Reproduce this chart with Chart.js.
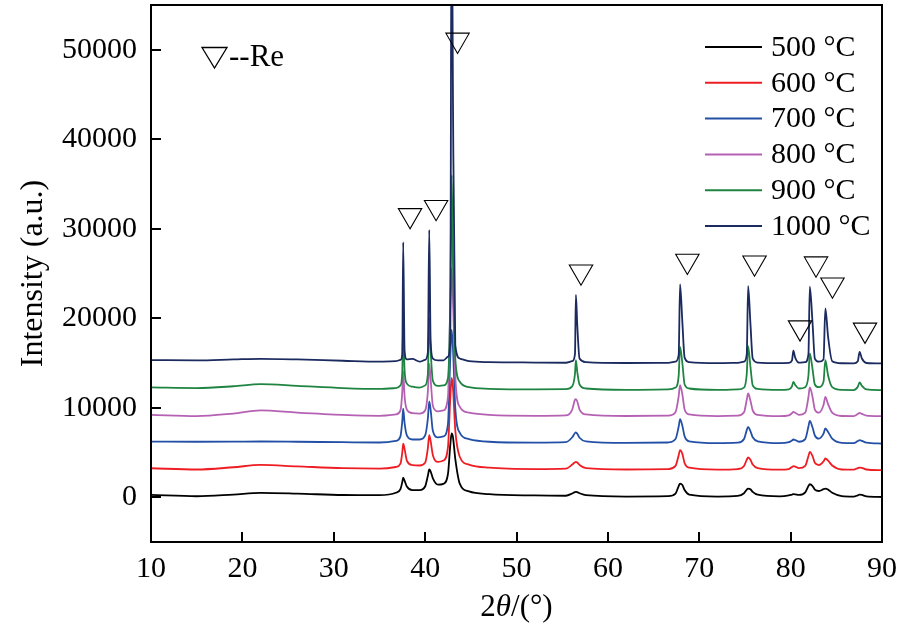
<!DOCTYPE html>
<html>
<head>
<meta charset="utf-8">
<script src="https://cdn.jsdelivr.net/npm/chart.js@4.4.1/dist/chart.umd.min.js"></script>
<style>
  html, body { margin: 0; padding: 0; background: #fff; }
  #wrap { width: 905px; height: 633px; }
</style>
</head>
<body>
<div id="wrap"><canvas id="xrd" width="905" height="633"></canvas></div>
<script>
// 2theta grid (degrees), denser around the Re reflections
const twoTheta = [
  10, 15, 19, 22, 26, 31, 35,
  36.8, 37.3, 37.5, 37.6, 37.75, 38.0, 38.6,
  39.4, 40.0, 40.3, 40.45, 40.6, 40.85, 41.4,
  42.0, 42.5, 42.75, 42.9, 43.05, 43.3, 43.8, 44.8, 47, 52,
  55.4, 56.1, 56.4, 56.5, 56.65, 56.9, 57.6,
  62, 66.6,
  67.4, 67.75, 67.9, 68.15, 68.4, 68.9,
  72, 74.2,
  74.9, 75.2, 75.35, 75.6, 75.85, 76.4,
  78.8, 79.8,
  80.15, 80.3, 80.5, 80.9,
  81.6, 81.95, 82.1, 82.4, 82.65, 83.1,
  83.6, 83.8, 84.1, 84.55,
  85.6, 86.9,
  87.35, 87.55, 87.8, 88.3, 90
];

const y500 = [
  260, 110, 300, 480, 400, 250, 230,
  500, 900, 1700, 2200, 1850, 1200, 800,
  800, 1200, 2400, 3100, 2900, 2100, 1400,
  1500, 2600, 5800, 7130, 6700, 4300, 1500, 650, 350, 200,
  170, 420, 580, 600, 570, 450, 230,
  80, 120,
  400, 1250, 1530, 1380, 800, 300,
  80, 150,
  450, 850, 970, 900, 600, 280,
  100, 200,
  300, 340, 330, 260,
  550, 1250, 1450, 1250, 850, 700,
  900, 970, 850, 500,
  130, 80,
  220, 300, 260, 100, 30
];
const y600 = [
  3240, 3100, 3350, 3610, 3450, 3250, 3200,
  3380, 3750, 5000, 6000, 5400, 4100, 3600,
  3550, 3850, 5500, 6940, 6300, 4700, 3950,
  4100, 5600, 11000, 13340, 12200, 7500, 4500, 3650, 3300, 3150,
  3200, 3650, 3920, 3950, 3880, 3600, 3250,
  3100, 3150,
  3500, 4700, 5260, 4850, 3800, 3300,
  3080, 3150,
  3500, 4200, 4440, 4200, 3650, 3250,
  3080, 3150,
  3380, 3470, 3430, 3250,
  3500, 4600, 5070, 4600, 3850, 3600,
  4000, 4330, 4100, 3550,
  3100, 3080,
  3250, 3320, 3280, 3100, 3020
];
const y700 = [
  6220, 6200, 6210, 6230, 6200, 6150, 6120,
  6300, 6800, 8500, 9900, 8300, 6900, 6450,
  6450, 6900, 8800, 10700, 9800, 7400, 6700,
  6800, 8200, 15500, 18700, 16600, 10000, 7200, 6500, 6200, 6100,
  6150, 6700, 7180, 7240, 7100, 6650, 6250,
  6080, 6120,
  6500, 7900, 8720, 8000, 6800, 6250,
  6050, 6100,
  6500, 7500, 7860, 7400, 6700, 6250,
  6050, 6150,
  6350, 6450, 6400, 6200,
  6500, 7900, 8540, 7800, 6900, 6550,
  7100, 7680, 7300, 6550,
  6080, 6050,
  6280, 6380, 6300, 6100, 6000
];
const y800 = [
  9200, 9060, 9350, 9700, 9450, 9200, 9100,
  9250, 9700, 11800, 14100, 11300, 9800, 9400,
  9350, 9700, 11800, 14900, 13200, 10200, 9600,
  9700, 11200, 21000, 25600, 22000, 13500, 10100, 9450, 9200, 9100,
  9150, 9800, 10900, 10960, 10700, 9800, 9250,
  9080, 9120,
  9500, 11300, 12530, 11500, 9800, 9250,
  9070, 9120,
  9500, 10900, 11600, 10800, 9700, 9200,
  9060, 9150,
  9400, 9540, 9450, 9200,
  9450, 11200, 12270, 11200, 9800, 9450,
  10300, 11220, 10400, 9450,
  9080, 9070,
  9300, 9430, 9320, 9120, 9060
];
const y900 = [
  12270, 12200, 12400, 12640, 12450, 12200, 12100,
  12200, 12500, 14000, 19300, 14200, 12700, 12350,
  12250, 12500, 13800, 20100, 16500, 13000, 12450,
  12500, 13300, 22000, 36000, 26000, 15500, 12900, 12300, 12120, 12050,
  12080, 12400, 13800, 15320, 14000, 12600, 12150,
  12000, 12050,
  12250, 13600, 16800, 15000, 12600, 12150,
  11990, 12050,
  12250, 13800, 16890, 14600, 12500, 12100,
  11990, 12050,
  12400, 12900, 12550, 12150,
  12300, 13600, 16070, 14300, 12600, 12300,
  12900, 15320, 13600, 12300,
  11990, 11980,
  12350, 12830, 12450, 12050, 11970
];
const y1000 = [
  15320, 15300, 15400, 15470, 15400, 15250, 15150,
  15200, 15350, 16000, 28500, 16400, 15400, 15450,
  15150, 15350, 16200, 29870, 17500, 15500, 15300,
  15300, 15700, 17500, 70000, 44000, 17000, 15500, 15200, 15100, 15050,
  15030, 15200, 16000, 22600, 19240, 15500, 15100,
  15000, 15020,
  15150, 15900, 23790, 19600, 15600, 15100,
  14990, 15020,
  15150, 16000, 23600, 19430, 15500, 15050,
  14980, 15020,
  15300, 16370, 15600, 15050,
  15100, 16000, 23520, 19460, 15500, 15150,
  15400, 21100, 17930, 15200,
  14970, 14960,
  15200, 16250, 15500, 15000, 14950
];

const seriesLabels = ["500 °C", "600 °C", "700 °C", "800 °C", "900 °C", "1000 °C"];
const seriesValues = [y500, y600, y700, y800, y900, y1000];
const seriesColors = ["#000000", "#ee1d23", "#2350a6", "#b561b3", "#1f8442", "#1b2a5f"];

// Re reflection markers (open triangles above the peaks)
const reMarkX = [38.35, 41.2, 43.55, 57.06, 68.7, 76.05, 81.03, 82.78, 84.58, 88.14];
const reMarkY = [31500, 32400, 51100, 25200, 26400, 26200, 18950, 26100, 23750, 18700];

const xTickValues = [10, 20, 30, 40, 50, 60, 70, 80, 90];
const yTickValues = [0, 10000, 20000, 30000, 40000, 50000];

const SERIF = "'Liberation Serif', 'Times New Roman', serif";

const datasets = seriesValues.map((vals, i) => ({
    label: seriesLabels[i],
    data: twoTheta.map((x, k) => ({ x: x, y: vals[k] })),
    borderColor: seriesColors[i],
    backgroundColor: seriesColors[i],
    borderWidth: 1.8,
    pointRadius: 0,
    fill: false,
    cubicInterpolationMode: "monotone",
    order: seriesValues.length - i,   // hotter samples drawn on top
}));

datasets.push({
    label: "Re",
    data: reMarkX.map((x, k) => ({ x: x, y: reMarkY[k] })),
    showLine: false,
    pointStyle: "triangle",
    rotation: 180,
    pointRadius: 13.5,
    pointHoverRadius: 13.5,
    pointBorderColor: "#000",
    pointBackgroundColor: "rgba(0,0,0,0)",
    pointBorderWidth: 1.1,
    order: -1,
});

// frame, inward ticks, legend, marker key and x title
const decorPlugin = {
    id: "decor",
    afterDraw(chart) {
        const ctx = chart.ctx;
        const a = chart.chartArea;
        const xs = chart.scales.x;
        const ys = chart.scales.y;
        ctx.save();

        ctx.strokeStyle = "#000";
        ctx.lineWidth = 2;
        ctx.strokeRect(a.left, a.top, a.right - a.left, a.bottom - a.top);

        ctx.beginPath();
        xTickValues.forEach(v => {
            const px = Math.round(xs.getPixelForValue(v));
            ctx.moveTo(px, a.bottom);
            ctx.lineTo(px, a.bottom - 10);
        });
        yTickValues.forEach(v => {
            const py = Math.round(ys.getPixelForValue(v));
            ctx.moveTo(a.left, py);
            ctx.lineTo(a.left + 10, py);
        });
        ctx.stroke();

        // legend
        ctx.font = "30px " + SERIF;
        ctx.textBaseline = "middle";
        ctx.textAlign = "left";
        ctx.fillStyle = "#000";
        seriesLabels.forEach((lab, i) => {
            const y = 47 + i * 35.8;
            ctx.strokeStyle = seriesColors[i];
            ctx.lineWidth = 2;
            ctx.beginPath();
            ctx.moveTo(705, y);
            ctx.lineTo(762, y);
            ctx.stroke();
            ctx.fillText(lab, 771, y + 1);
        });

        // marker key
        ctx.strokeStyle = "#000";
        ctx.lineWidth = 1.3;
        ctx.beginPath();
        ctx.moveTo(202, 47.5);
        ctx.lineTo(227, 47.5);
        ctx.lineTo(214.5, 68);
        ctx.closePath();
        ctx.stroke();
        ctx.textBaseline = "alphabetic";
        ctx.font = "31px " + SERIF;
        ctx.fillText("--Re", 229, 66);

        // x axis title: 2θ/(°)
        const parts = [["2", ""], ["θ", "italic "], ["/(°)", ""]];
        let total = 0;
        parts.forEach(p => { ctx.font = p[1] + "31px " + SERIF; total += ctx.measureText(p[0]).width; });
        let x = (a.left + a.right) / 2 - total / 2;
        parts.forEach(p => {
            ctx.font = p[1] + "31px " + SERIF;
            ctx.fillText(p[0], x, 616);
            x += ctx.measureText(p[0]).width;
        });

        ctx.restore();
    }
};

new Chart(document.getElementById("xrd"), {
    type: "line",
    data: { datasets: datasets },
    options: {
        responsive: false,
        animation: false,
        events: [],
        layout: { autoPadding: false, padding: { top: 5, right: 23, left: 0, bottom: 0 } },
        plugins: {
            legend: { display: false },
            tooltip: { enabled: false },
        },
        scales: {
            x: {
                type: "linear",
                min: 10,
                max: 90,
                afterBuildTicks: s => { s.ticks = xTickValues.map(v => ({ value: v })); },
                afterFit: s => { s.height = 91; s.paddingLeft = 0; s.paddingRight = 0; },
                grid: { display: false, drawTicks: false },
                border: { display: false },
                ticks: {
                    padding: 9,
                    maxRotation: 0,
                    color: "#000",
                    font: { family: SERIF, size: 30 },
                    callback: v => String(v),
                },
            },
            y: {
                type: "linear",
                min: -5000,
                max: 55000,
                afterBuildTicks: s => { s.ticks = yTickValues.map(v => ({ value: v })); },
                afterFit: s => { s.width = 151; s.paddingTop = 0; s.paddingBottom = 0; },
                grid: { display: false, drawTicks: false },
                border: { display: false },
                title: {
                    display: true,
                    text: "Intensity (a.u.)",
                    color: "#000",
                    font: { family: SERIF, size: 32 },
                    padding: { top: 14, bottom: 0 },
                },
                ticks: {
                    padding: 14,
                    color: "#000",
                    font: { family: SERIF, size: 30 },
                    callback: v => String(v),
                },
            },
        },
    },
    plugins: [decorPlugin],
});
</script>
</body>
</html>
